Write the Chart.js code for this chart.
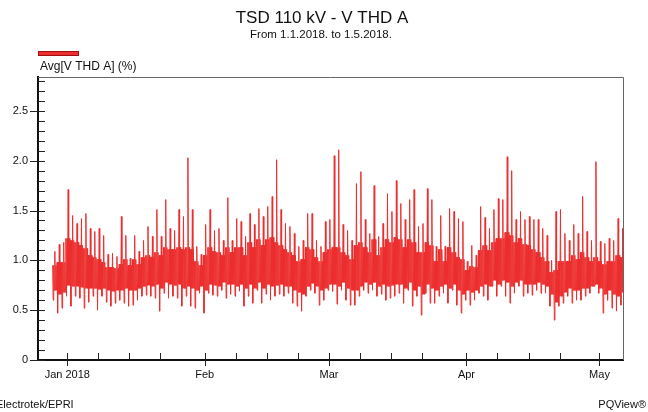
<!DOCTYPE html>
<html>
<head>
<meta charset="utf-8">
<title>TSD 110 kV - V THD A</title>
<script src="https://cdn.jsdelivr.net/npm/chart.js@4.4.1/dist/chart.umd.min.js"></script>
<style>
  html, body { margin: 0; padding: 0; background: #fff; }
</style>
</head>
<body>
<canvas id="thdChart" width="648" height="412"></canvas>
<script>
// days counted from 1 Jan 2018 (= 0); one entry per day starting at firstDay
const firstDay = -3;
const dailyPeak = [
  1.09, 1.16, 1.18,
  1.71, 1.45, 1.37, 1.42, 1.47, 1.32, 1.29, 1.32, 1.25, 1.06,
  1.07, 1.04, 1.44, 1.25, 1.02, 1.25, 1.09, 1.20, 1.34, 1.24,
  1.51, 1.24, 1.61, 1.32, 1.30, 1.51, 1.44, 2.03, 1.51, 1.14,
  1.06, 1.36, 1.51, 1.30, 1.32, 1.20, 1.63, 1.20, 1.42, 1.39,
  1.24, 1.47, 1.36, 1.52, 1.44, 1.54, 1.64, 2.01, 1.51, 1.37,
  1.34, 1.27, 1.14, 1.20, 1.47, 1.47, 1.20, 1.14, 1.39, 1.41,
  2.05, 2.11, 1.36, 1.30, 1.20, 1.77, 1.89, 1.41, 1.27, 1.75,
  1.24, 1.37, 1.67, 1.49, 1.80, 1.57, 1.41, 1.61, 1.71, 1.34,
  1.37, 1.72, 1.61, 1.14, 1.45, 1.14, 1.52, 1.49, 1.42, 1.39,
  0.99, 1.15, 1.05, 1.54, 1.43, 1.32, 1.51, 1.62, 1.61, 2.04,
  1.90, 1.41, 1.49, 1.41, 1.44, 1.41, 1.41, 1.32, 1.25, 1.00,
  1.49, 1.51, 1.27, 1.20, 1.36, 1.27, 1.64, 1.29, 1.20, 1.99,
  1.19, 1.17, 1.22, 1.20, 1.42, 1.32
];
const dailyTop = [
  0.95, 0.98, 0.98,
  1.22, 1.20, 1.18, 1.15, 1.12, 1.05, 1.03, 1.01, 0.98, 0.93,
  0.93, 0.92, 0.96, 1.01, 0.95, 1.01, 0.96, 1.03, 1.05, 1.03,
  1.08, 1.05, 1.13, 1.11, 1.11, 1.13, 1.11, 1.13, 1.11, 0.99,
  0.95, 1.05, 1.13, 1.09, 1.08, 1.05, 1.13, 1.08, 1.13, 1.13,
  1.05, 1.18, 1.13, 1.21, 1.15, 1.21, 1.23, 1.18, 1.15, 1.11,
  1.08, 1.05, 0.99, 1.01, 1.13, 1.11, 1.03, 0.99, 1.08, 1.11,
  1.13, 1.13, 1.08, 1.05, 1.01, 1.15, 1.18, 1.13, 1.08, 1.21,
  1.05, 1.13, 1.21, 1.18, 1.23, 1.21, 1.13, 1.21, 1.18, 1.08,
  1.08, 1.18, 1.15, 0.99, 1.11, 0.99, 1.13, 1.08, 1.03, 1.01,
  0.90, 0.94, 0.93, 1.10, 1.15, 1.10, 1.18, 1.22, 1.22, 1.28,
  1.25, 1.18, 1.22, 1.16, 1.15, 1.11, 1.08, 1.03, 0.99, 0.88,
  0.90, 0.99, 0.99, 0.99, 1.05, 1.01, 1.08, 1.03, 0.99, 1.03,
  0.99, 0.96, 0.99, 0.99, 1.05, 1.03
];
const dailyBottom = [
  0.70, 0.66, 0.68,
  0.75, 0.74, 0.74, 0.73, 0.72, 0.72, 0.72, 0.71, 0.72, 0.70,
  0.69, 0.70, 0.70, 0.72, 0.70, 0.70, 0.72, 0.74, 0.75, 0.74,
  0.76, 0.72, 0.78, 0.76, 0.75, 0.76, 0.72, 0.74, 0.72, 0.70,
  0.74, 0.70, 0.76, 0.75, 0.74, 0.78, 0.76, 0.76, 0.74, 0.76,
  0.72, 0.76, 0.72, 0.78, 0.72, 0.76, 0.74, 0.75, 0.76, 0.74,
  0.74, 0.70, 0.68, 0.66, 0.74, 0.77, 0.74, 0.70, 0.72, 0.76,
  0.76, 0.74, 0.78, 0.72, 0.70, 0.70, 0.74, 0.78, 0.76, 0.78,
  0.74, 0.76, 0.74, 0.75, 0.76, 0.76, 0.72, 0.78, 0.70, 0.74,
  0.66, 0.76, 0.72, 0.70, 0.74, 0.76, 0.72, 0.76, 0.70, 0.66,
  0.70, 0.68, 0.70, 0.74, 0.76, 0.74, 0.80, 0.76, 0.80, 0.78,
  0.74, 0.78, 0.80, 0.76, 0.76, 0.76, 0.78, 0.76, 0.74, 0.66,
  0.58, 0.64, 0.68, 0.72, 0.70, 0.70, 0.72, 0.72, 0.74, 0.76,
  0.72, 0.66, 0.70, 0.66, 0.64, 0.68
];
const dailyLow = [
  0.60, 0.47, 0.52,
  0.64, 0.54, 0.64, 0.62, 0.52, 0.58, 0.64, 0.50, 0.64, 0.58,
  0.54, 0.57, 0.60, 0.57, 0.54, 0.55, 0.60, 0.64, 0.65, 0.64,
  0.62, 0.49, 0.67, 0.62, 0.64, 0.62, 0.54, 0.64, 0.54, 0.52,
  0.67, 0.47, 0.67, 0.65, 0.64, 0.70, 0.62, 0.66, 0.64, 0.69,
  0.54, 0.64, 0.57, 0.70, 0.57, 0.66, 0.60, 0.64, 0.66, 0.64,
  0.67, 0.57, 0.54, 0.49, 0.64, 0.70, 0.67, 0.55, 0.60, 0.70,
  0.69, 0.56, 0.70, 0.60, 0.55, 0.55, 0.64, 0.70, 0.67, 0.70,
  0.64, 0.66, 0.60, 0.62, 0.64, 0.67, 0.57, 0.70, 0.54, 0.64,
  0.45, 0.67, 0.57, 0.57, 0.64, 0.67, 0.57, 0.70, 0.55, 0.47,
  0.60, 0.55, 0.60, 0.67, 0.64, 0.60, 0.74, 0.64, 0.74, 0.64,
  0.57, 0.67, 0.74, 0.64, 0.67, 0.65, 0.70, 0.67, 0.67, 0.54,
  0.40, 0.54, 0.57, 0.64, 0.57, 0.60, 0.60, 0.64, 0.67, 0.74,
  0.67, 0.47, 0.60, 0.52, 0.49, 0.55
];

const monthStarts = [0, 31, 59, 90, 120];
const monthLabels = ['Jan 2018', 'Feb', 'Mar', 'Apr', 'May'];
const weekTicks = [7, 14, 21, 38, 45, 52, 66, 73, 80, 97, 104, 111];
const yMajor = [0, 0.5, 1.0, 1.5, 2.0, 2.5];
const yLabels = ['0', '0.5', '1.0', '1.5', '2.0', '2.5'];

const red = 'rgb(236,46,46)';
const font = "'Liberation Sans Narrow', 'Liberation Sans', Arial, sans-serif";

// each day is drawn as several samples swinging through its observed range
const order = ['top', 'low', 'top', 'bottom', 'peak', 'bottom', 'top', 'bottom'];
const points = [];
dailyPeak.forEach((p, i) => {
  const day = firstDay - 0.3 + i;
  const v = { peak: p, top: dailyTop[i], bottom: dailyBottom[i], low: dailyLow[i] };
  order.forEach((key, k) => points.push({ x: day + k / order.length, y: v[key] }));
});

const yTicks = [];
for (let i = 0; i <= 28; i++) yTicks.push(i / 10);

const isMajorY = v => yMajor.some(m => Math.abs(m - v) < 1e-6);

const decorations = {
  id: 'decorations',
  afterDraw(chart) {
    const { ctx, chartArea: a, scales } = chart;
    const x = scales.x, y = scales.y;
    ctx.save();

    // top and right frame
    ctx.strokeStyle = '#666';
    ctx.lineWidth = 1;
    ctx.beginPath();
    ctx.moveTo(a.left, a.top + 0.5);
    ctx.lineTo(a.right + 0.5, a.top + 0.5);
    ctx.lineTo(a.right + 0.5, a.bottom);
    ctx.stroke();

    // tick marks
    ctx.strokeStyle = '#222';
    ctx.beginPath();
    yTicks.forEach(v => {
      const py = Math.round(y.getPixelForValue(v)) + 0.5;
      ctx.moveTo(isMajorY(v) ? a.left - 8 : a.left, py);
      ctx.lineTo(a.left + 7, py);
    });
    monthStarts.concat(weekTicks).forEach(v => {
      const px = Math.round(x.getPixelForValue(v)) + 0.5;
      ctx.moveTo(px, a.bottom - 7);
      ctx.lineTo(px, monthStarts.includes(v) ? a.bottom + 6 : a.bottom);
    });
    ctx.stroke();

    // legend
    ctx.fillStyle = red;
    ctx.fillRect(38, 51.5, 41, 4);
    ctx.strokeStyle = '#a01010';
    ctx.strokeRect(38.5, 51.5, 40, 4);

    ctx.fillStyle = '#111';
    ctx.textBaseline = 'middle';
    ctx.textAlign = 'left';
    ctx.font = '12px ' + font;
    ctx.fillText('Avg[V THD A] (%)', 40, 67);

    ctx.textAlign = 'center';
    ctx.font = '17px ' + font;
    ctx.fillText('TSD 110 kV - V THD A', 322, 18);
    ctx.font = '11.5px ' + font;
    ctx.fillText('From 1.1.2018. to 1.5.2018.', 321, 35);

    ctx.font = '11px ' + font;
    ctx.textAlign = 'left';
    ctx.fillText('Electrotek/EPRI', -4, 405);
    ctx.textAlign = 'right';
    ctx.fillText('PQView\u00AE', 646, 405);
    ctx.restore();
  }
};

new Chart(document.getElementById('thdChart'), {
  type: 'line',
  data: {
    datasets: [{
      label: 'Avg[V THD A] (%)',
      data: points,
      borderColor: red,
      borderWidth: 1,
      pointRadius: 0,
      tension: 0
    }]
  },
  options: {
    responsive: false,
    animation: false,
    parsing: false,
    layout: { padding: { left: 0, right: 25, top: 77, bottom: 22 } },
    plugins: {
      legend: { display: false },
      title: { display: false },
      tooltip: { enabled: false }
    },
    scales: {
      x: {
        type: 'linear',
        min: -6.6,
        max: 125.3,
        afterFit: s => { s.height = 30; },
        afterBuildTicks: s => { s.ticks = monthStarts.concat(weekTicks).sort((p, q) => p - q).map(v => ({ value: v })); },
        grid: { display: false, drawTicks: false },
        border: { display: true, color: '#111', width: 2 },
        ticks: {
          autoSkip: false,
          maxRotation: 0,
          padding: 8,
          color: '#111',
          font: { family: font, size: 11 },
          callback: v => { const i = monthStarts.indexOf(v); return i >= 0 ? monthLabels[i] : ''; }
        }
      },
      y: {
        min: 0,
        max: 2.84,
        afterFit: s => { s.width = 38; },
        afterBuildTicks: s => { s.ticks = yTicks.map(v => ({ value: v })); },
        grid: { display: false, drawTicks: false },
        border: { display: true, color: '#111', width: 2 },
        ticks: {
          autoSkip: false,
          padding: 10,
          color: '#111',
          font: { family: font, size: 11 },
          callback: v => { const i = yMajor.findIndex(m => Math.abs(m - v) < 1e-6); return i >= 0 ? yLabels[i] : ''; }
        }
      }
    }
  },
  plugins: [decorations]
});
</script>
</body>
</html>
